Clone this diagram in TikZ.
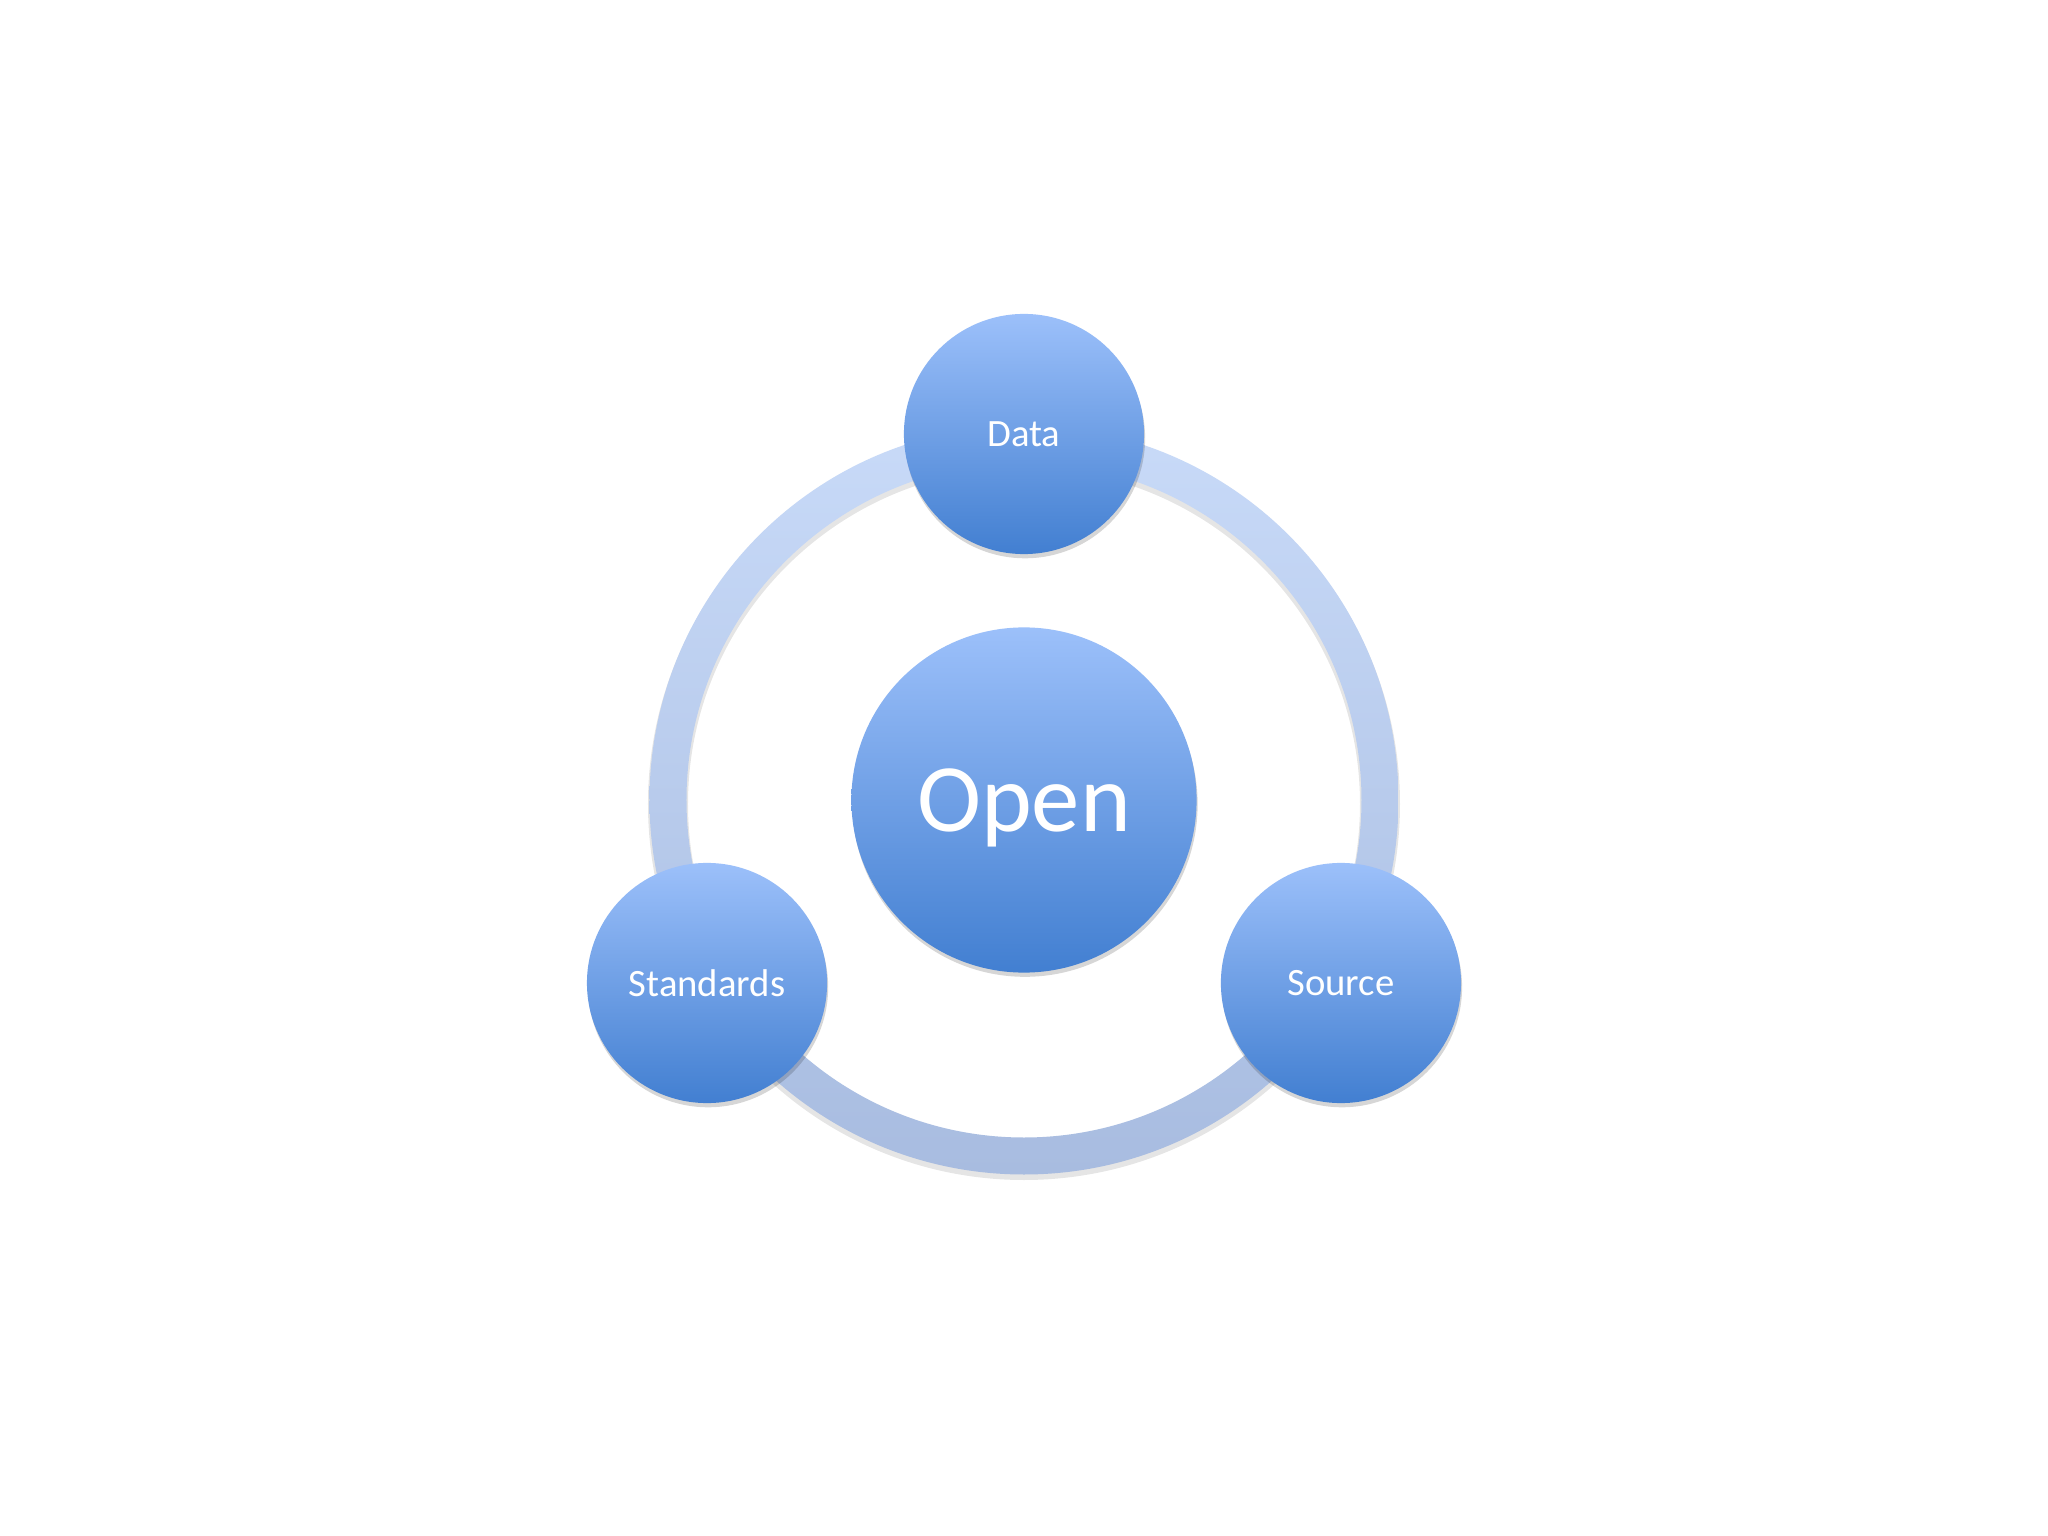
\documentclass[tikz,border=0pt]{standalone}
\usepackage{fontspec}
\setmainfont{Carlito}
\usetikzlibrary{shadows}
\definecolor{balltop}{HTML}{9CC0FA}
\definecolor{ballbot}{HTML}{427FD1}
\definecolor{ringtop}{HTML}{C8DAF8}
\definecolor{ringbot}{HTML}{A8BCE0}

\begin{document}
\begin{tikzpicture}[x=0.01cm,y=0.01cm,
  ball/.style={circle,inner sep=0pt,text=white,text depth=0pt,
    top color=balltop,bottom color=ballbot,
    drop shadow={shadow xshift=0.3pt,shadow yshift=-1.2pt,opacity=0.16,fill=black}},
  sat/.style={ball,minimum size=2.4cm,font=\fontsize{11}{13}\selectfont},
  hub/.style={ball,minimum size=3.45cm,font=\fontsize{27.5}{33}\selectfont}]
  \useasboundingbox[fill=white] (-1024,-736) rectangle (1024,800);
  % ring behind the circles
  \fill[black,opacity=0.1,even odd rule] (0,-4) circle[radius=376] (0,-4) circle[radius=336];
  \shade[top color=ringtop,bottom color=ringbot,even odd rule]
    (0,0) circle[radius=374.5] (0,0) circle[radius=337.5];
  \node[hub] (open) at (0,0) {Open};
  \node[sat] (data) at (90:366) {Data};
  \node[sat] (standards) at (210:366) {Standards};
  \node[sat] (source) at (330:366) {Source};
\end{tikzpicture}
\end{document}
